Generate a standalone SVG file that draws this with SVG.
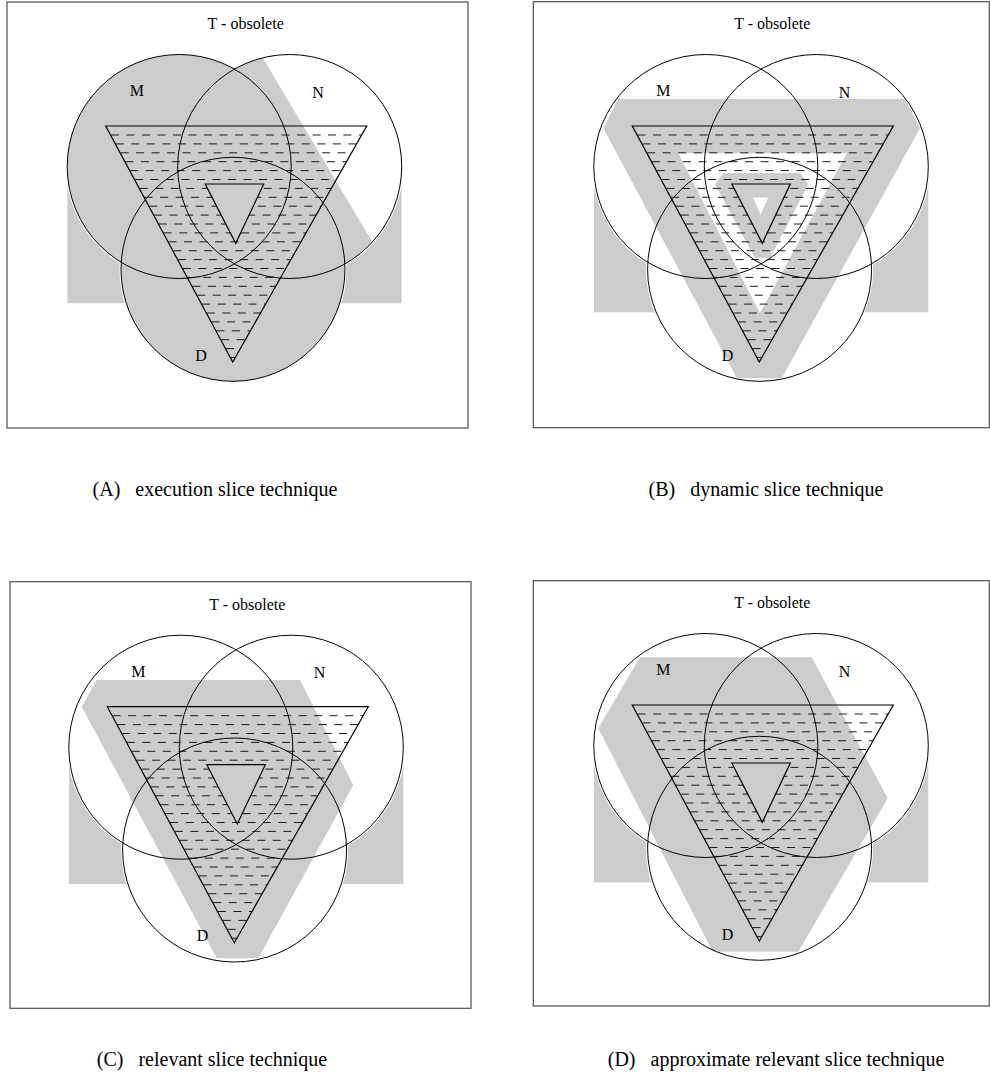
<svg xmlns="http://www.w3.org/2000/svg" xmlns:xlink="http://www.w3.org/1999/xlink" width="990" height="1084" viewBox="0 0 990 1084">
<style>
.frame{fill:none;stroke:#4d4d4d;stroke-width:1.2}
.g{fill:#cccccc}
.w{fill:#ffffff}
.halo{fill:#ffffff;stroke:#ffffff;stroke-width:3}
.ol{fill:none;stroke:#000;stroke-width:1}
.tri{fill:none;stroke:#000;stroke-width:1.2;stroke-linejoin:miter}
.dash{fill:none;stroke:#1a1a1a;stroke-width:1;stroke-dasharray:8 7.5}
.lbl{font-family:"Liberation Serif","Times New Roman",serif;font-size:16px;fill:#000}
.cap{font-family:"Liberation Serif","Times New Roman",serif;font-size:20px;fill:#000;white-space:pre;text-anchor:middle}
</style>
<defs>
<clipPath id="hc"><path clip-rule="evenodd" d="M0,0 L261,0 L127,236 Z M99.5,58 L158,58 L130,117.3 Z"/></clipPath>
<g id="hatch" clip-path="url(#hc)">
<path class="dash" d="M5.3,9H255.9M10.1,17.9H250.8M14.9,26.8H245.8M19.7,35.7H240.7M24.5,44.6H235.7M29.3,53.5H230.6M34.1,62.4H225.6M38.9,71.3H220.5M43.6,80.2H215.4M48.4,89.1H210.4M53.2,98H205.3M58,106.9H200.3M62.8,115.8H195.2M67.6,124.7H190.2M72.4,133.6H185.1M77.2,142.5H180.1M82,151.4H175M86.7,160.3H170M91.5,169.2H164.9M96.3,178.1H159.8M101.1,187H154.8M105.9,195.9H149.7M110.7,204.8H144.7M115.5,213.7H139.6M120.3,222.6H134.6M125,231.5H129.5"/>
</g>
<g id="halos">
<circle class="halo" cx="73.5" cy="40.5" r="112"/>
<circle class="halo" cx="184" cy="40.5" r="112"/>
<circle class="halo" cx="127.3" cy="143.3" r="112"/>
</g>
<g id="outlines">
<circle class="ol" cx="73.5" cy="40.5" r="112"/>
<circle class="ol" cx="184" cy="40.5" r="112"/>
<circle class="ol" cx="127.3" cy="143.3" r="112"/>
</g>
<g id="tris">
<path class="tri" d="M0,0 L261,0 L127,236 Z"/>
<path class="tri" d="M99.5,58 L158,58 L130,117.3 Z"/>
</g>
<g id="labels">
<text class="lbl" x="140" y="-97" text-anchor="middle">T - obsolete</text>
<text class="lbl" x="24" y="-30">M</text>
<text class="lbl" x="206.5" y="-28.3">N</text>
<text class="lbl" x="89.5" y="234.5">D</text>
</g>
</defs>

<g id="panelA">
<rect class="frame" x="7" y="2" width="461" height="426"/>
<g transform="translate(105.7,126)">
<rect class="g" x="-38.3" y="40.5" width="334.3" height="136.8"/>
<use href="#halos"/>
<circle class="g" cx="73.5" cy="40.5" r="112"/>
<circle class="g" cx="184" cy="40.5" r="112"/>
<circle class="g" cx="127.3" cy="143.3" r="112"/>
<path class="w" d="M157,-68.2 A112,112 0 0 1 266.6,116 Z"/>
<use href="#hatch"/>
<use href="#tris"/>
<use href="#outlines"/>
<use href="#labels"/>
</g>
</g>

<g id="panelB">
<rect class="frame" x="533.3" y="1.7" width="456" height="426"/>
<g transform="translate(632.3,126)">
<rect class="g" x="-38.3" y="40.5" width="334.3" height="145.8"/>
<use href="#halos"/>
<path class="g" d="M-14,-27 L272.7,-27 L287.7,2.3 L149.4,252.3 L104.7,252.3 L-29,2.3 Z"/>
<path class="w" d="M46,27.3 L214.4,27.3 L127.7,187.3 Z"/>
<path class="g" d="M91,47 L167.7,47 L176,58.5 L137.7,132 L122.7,132 L82.7,58.5 Z"/>
<path class="w" d="M120.5,71.5 L136,71.5 L128.4,88.5 Z"/>
<use href="#hatch"/>
<use href="#tris"/>
<use href="#outlines"/>
<use href="#labels"/>
</g>
</g>

<g id="panelC">
<rect class="frame" x="10" y="581.7" width="461" height="426.6"/>
<g transform="translate(107.3,706.7)">
<rect class="g" x="-38.3" y="40.5" width="334.3" height="136.8"/>
<use href="#halos"/>
<path class="g" d="M-10.6,-26.7 L192.7,-26.7 L246,78.3 L151,251.6 L109.4,251.6 L-25.6,0 Z"/>
<use href="#hatch"/>
<use href="#tris"/>
<use href="#outlines"/>
<use href="#labels"/>
</g>
</g>

<g id="panelD">
<rect class="frame" x="533.3" y="580.7" width="456" height="425.3"/>
<g transform="translate(632.3,705)">
<rect class="g" x="-38.3" y="40.5" width="334.3" height="136.8"/>
<use href="#halos"/>
<path class="g" d="M7.7,-47.7 L179.4,-47.7 L255.4,93.3 L166,246.7 L80.4,246.7 L-34,23.3 Z"/>
<use href="#hatch"/>
<use href="#tris"/>
<use href="#outlines"/>
<use href="#labels"/>
</g>
</g>

<g id="captions">
<text class="cap" x="215" y="496" xml:space="preserve">(A)   execution slice technique</text>
<text class="cap" x="766" y="496" xml:space="preserve">(B)   dynamic slice technique</text>
<text class="cap" x="212" y="1066" xml:space="preserve">(C)   relevant slice technique</text>
<text class="cap" x="776" y="1066" xml:space="preserve">(D)   approximate relevant slice technique</text>
</g>
</svg>
